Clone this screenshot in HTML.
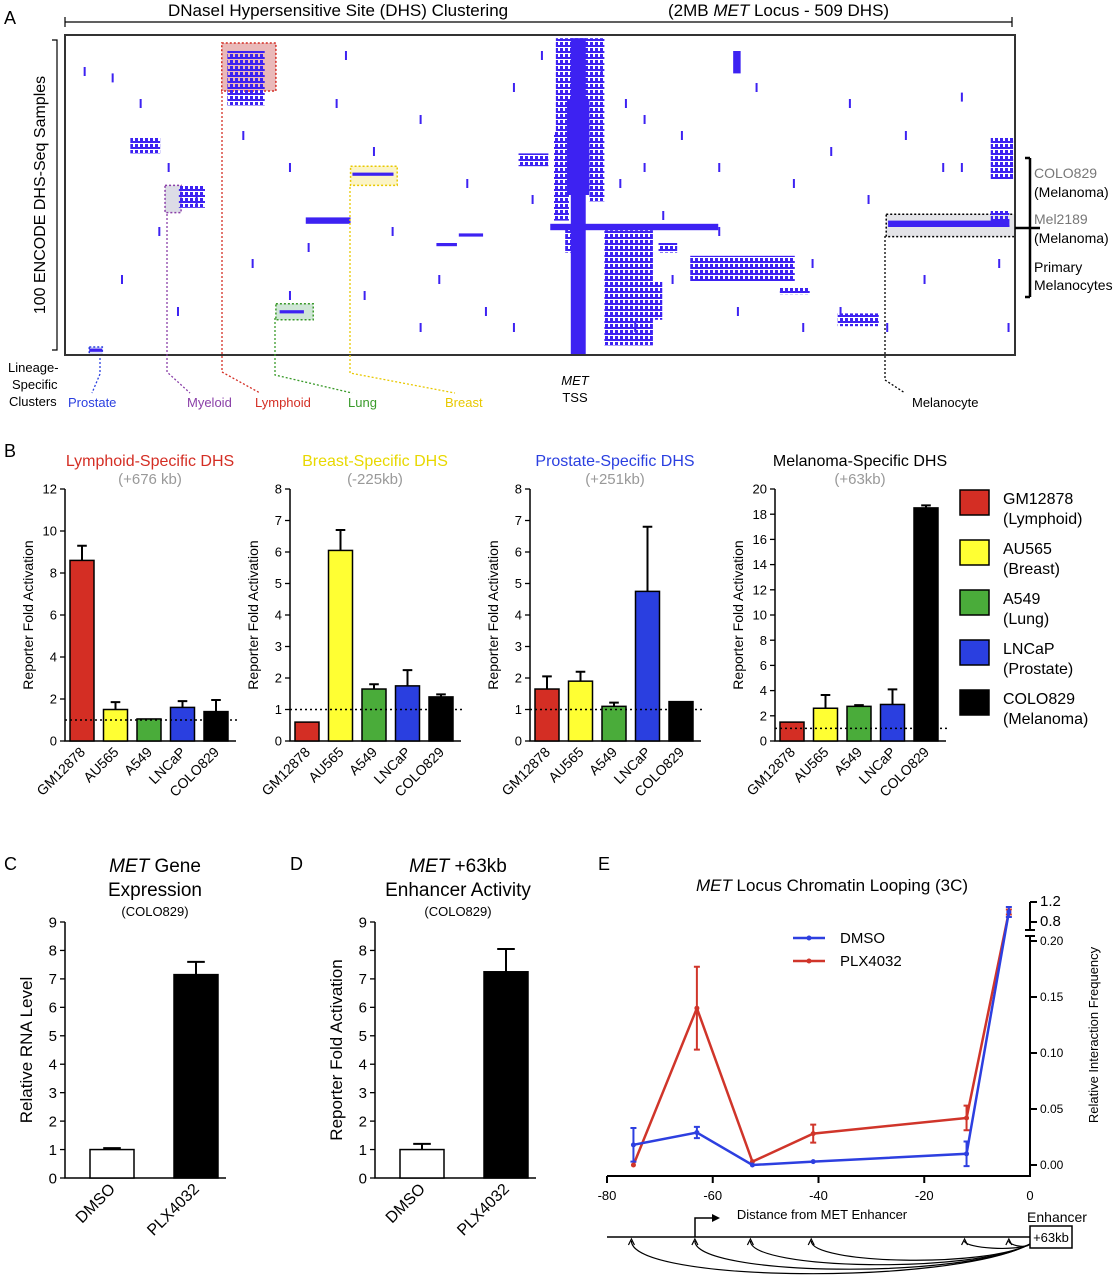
<!DOCTYPE html>
<html><head><meta charset="utf-8"><style>
body{margin:0;background:#fff}
svg{display:block;font-family:"Liberation Sans",sans-serif}
</style></head><body>
<svg id="fig" width="1120" height="1280" viewBox="0 0 1120 1280">
<defs>
<pattern id="speck" width="5" height="6" patternUnits="userSpaceOnUse"><rect x="0" y="0" width="3" height="5" fill="#3d22f2"/><rect x="3" y="3" width="2" height="2" fill="#3d22f2"/></pattern>
</defs>
<g id="pA">
<text x="4" y="24" font-size="18">A</text>
<text x="168" y="16" font-size="17">DNaseI Hypersensitive Site (DHS) Clustering</text>
<text x="668" y="16" font-size="17">(2MB <tspan font-style="italic">MET</tspan> Locus - 509 DHS)</text>
<path d="M65 17V27M65 22H1012M1012 17V27" stroke="#000" stroke-width="1.2" fill="none"/>
<text transform="translate(45,195) rotate(-90)" text-anchor="middle" font-size="16">100 ENCODE DHS-Seq Samples</text>
<path d="M52 40H57V350H52" stroke="#000" stroke-width="1.2" fill="none"/>
<g id="heat"></g>
<rect x="65" y="35" width="950" height="320" fill="none" stroke="#333" stroke-width="2"/>
<g font-size="13">
<text x="8" y="372">Lineage-</text>
<text x="12" y="389">Specific</text>
<text x="9" y="406">Clusters</text>
<text x="68" y="407" fill="#2a3fe0">Prostate</text>
<text x="187" y="407" fill="#8a3fa8">Myeloid</text>
<text x="255" y="407" fill="#d42e24">Lymphoid</text>
<text x="348" y="407" fill="#3a9a2a">Lung</text>
<text x="445" y="407" fill="#e8c800">Breast</text>
<text x="575" y="385" text-anchor="middle" font-style="italic">MET</text>
<text x="575" y="402" text-anchor="middle">TSS</text>
<text x="912" y="407">Melanocyte</text>
</g>
<g fill="none" stroke-dasharray="2,2" stroke-width="1.3">
<path d="M100 358V374L92 393" stroke="#2a3fe0"/>
<path d="M167 214V372L190 393" stroke="#8a3fa8"/>
<path d="M222 92V372L260 393" stroke="#d42e24"/>
<path d="M275 318V375L352 393" stroke="#3a9a2a"/>
<path d="M350 187V373L455 393" stroke="#e8c800"/>
<path d="M885 236V380L905 393" stroke="#000"/>
</g>
<path d="M1015 228H1040M1030 158H1025M1030 158V297M1030 297H1025" stroke="#000" stroke-width="2.5" fill="none"/>
<g font-size="14">
<text x="1034" y="178" fill="#777">COLO829</text><text x="1034" y="197">(Melanoma)</text>
<text x="1034" y="224" fill="#777">Mel2189</text><text x="1034" y="243">(Melanoma)</text>
<text x="1034" y="272">Primary</text><text x="1034" y="290">Melanocytes</text>
</g>
</g>
<g id="pB">
<text x="4" y="457" font-size="18">B</text>
</g>
<g id="pCD">
<text x="4" y="870" font-size="18">C</text>
<text x="290" y="870" font-size="18">D</text>
<text x="155" y="872" text-anchor="middle" font-size="19"><tspan font-style="italic">MET</tspan> Gene</text>
<text x="155" y="896" text-anchor="middle" font-size="19">Expression</text>
<text x="155" y="916" text-anchor="middle" font-size="13">(COLO829)</text>
<text x="458" y="872" text-anchor="middle" font-size="19"><tspan font-style="italic">MET</tspan> +63kb</text>
<text x="458" y="896" text-anchor="middle" font-size="19">Enhancer Activity</text>
<text x="458" y="916" text-anchor="middle" font-size="13">(COLO829)</text>
</g>
<g id="pE">
<text x="598" y="870" font-size="18">E</text>
<text x="832" y="891" text-anchor="middle" font-size="17"><tspan font-style="italic">MET</tspan> Locus Chromatin Looping (3C)</text>
</g>
</svg>
<script>
// Panel A heatmap: solid blocks [col,row,colSpan,rowSpan]
const heatSolid=[[271,1,8,99],[269,20,12,30],[260,59,90,2],[154,43,22,1],[115,86,13,1],[441,58,65,2],[129,57,24,2],[199,65,11,1],[211,62,13,1],[13,98,7,1],[358,5,4,7]];
// speckled (dense but patchy) blocks [col,row,colSpan,rowSpan]
const heatSpeck=[[263,1,26,30],[262,30,8,28],[281,30,8,22],[289,61,26,36],[335,69,56,8],[300,77,20,12],[383,79,16,2],[87,5,20,17],[61,47,14,7],[35,32,16,5],[243,37,16,4],[414,87,22,4],[496,32,12,13],[496,55,10,5],[268,60,10,8],[318,65,10,3]];
const heatTicks=[[10,10],[25,12],[40,20],[55,40],[70,50],[95,30],[100,70],[120,40],[130,65],[145,20],[160,80],[175,60],[190,25],[200,75],[215,45],[225,85],[240,15],[250,50],[300,20],[310,40],[320,55],[330,30],[350,60],[360,85],[370,15],[390,45],[400,70],[410,35],[420,20],[430,50],[460,75],[470,40],[480,18],[500,70],[505,90],[240,90],[190,90],[60,85],[30,75],[150,5],[350,40],[325,75],[395,90],[450,30],[120,80],[255,5],[305,90],[415,85],[50,60],[165,35],[440,90],[480,40],[287,10],[297,45],[310,25]];
const clusterBoxes=[[84,2.5,29,15],[53.6,47,8.6,8.5],[153,41,25,6],[113,84,20,5],[440,56,69,7],[13,97.5,7,2.5]];
const boxFill=['#eab9b9','#dcdce6','#fbf4c6','#cfe6d6','#e4e4e8','#d8dcf6'];
const boxStroke=['#d42e24','#8a3fa8','#e8c800','#3a9a2a','#000','#2a3fe0'];
const NS='http://www.w3.org/2000/svg';
function mk(tag,attrs,parent){const e=document.createElementNS(NS,tag);for(const k in attrs)e.setAttribute(k,attrs[k]);parent.appendChild(e);return e;}
const hx=c=>65+c*950/509, hy=r=>35+r*3.2;
const heat=document.getElementById('heat');
clusterBoxes.forEach((b,i)=>{const e=mk('rect',{x:hx(b[0]),y:hy(b[1]),width:b[2]*950/509,height:b[3]*3.2,fill:boxFill[i],stroke:boxStroke[i],'stroke-dasharray':'2,2','stroke-width':1.5},heat);

});
heatSpeck.forEach(b=>{const e=mk('rect',{x:hx(b[0]),y:hy(b[1]),width:b[2]*950/509,height:b[3]*3.2,fill:'url(#speck)'},heat);

});
heatSolid.forEach(b=>{const e=mk('rect',{x:hx(b[0]),y:hy(b[1]),width:b[2]*950/509,height:b[3]*3.2,fill:'#3d22f2'},heat);

});
heatTicks.forEach(b=>{const e=mk('rect',{x:hx(b[0]),y:hy(b[1]),width:2,height:9,fill:'#3d22f2'},heat);

});

// Panel B
const cellLines=['GM12878','AU565','A549','LNCaP','COLO829'];
const barColors=['#d42e24','#ffff33','#4aac3a','#2a3fe0','#000'];
const bTitles=['Lymphoid-Specific DHS','Breast-Specific DHS','Prostate-Specific DHS','Melanoma-Specific DHS'];
const bSub=['(+676 kb)','(-225kb)','(+251kb)','(+63kb)'];
const bTitleColors=['#d42e24','#e8d800','#2a3fe0','#000'];
const bMax=[12,8,8,20];
const bStep=[2,1,1,2];
const lymphVals=[8.6,1.5,1.05,1.6,1.4], lymphErr=[0.7,0.35,0,0.3,0.55];
const breastVals=[0.6,6.05,1.65,1.75,1.4], breastErr=[0,0.65,0.15,0.5,0.08];
const prostVals=[1.65,1.9,1.1,4.75,1.25], prostErr=[0.4,0.3,0.12,2.05,0];
const melVals=[1.5,2.6,2.75,2.9,18.5], melErr=[0,1.05,0.1,1.2,0.2];
const bVals=[lymphVals,breastVals,prostVals,melVals], bErrs=[lymphErr,breastErr,prostErr,melErr];
const bAxisX=[65,290,530,775];
const pB=document.getElementById('pB');
function barChart(g,x0,y0,y1,max,step,vals,errs,colors,cats,off,bstep,bw,fs,dotted,name){
  const ys=v=>y0-(v/max)*(y0-y1);
  const ax=mk('path',{d:`M${x0} ${y1}V${y0}H${x0+off+bstep*(vals.length-1)+bw/2+8}`,stroke:'#000','stroke-width':1.5,fill:'none'},g);
  
  
  for(let v=0;v<=max+1e-9;v+=step){
    mk('path',{d:`M${x0-5} ${ys(v)}H${x0}`,stroke:'#000','stroke-width':1.3},g);
    const t=mk('text',{x:x0-8,y:ys(v)+fs*0.35,'text-anchor':'end','font-size':fs},g);t.textContent=v;
    
    
  }
  vals.forEach((v,i)=>{const cx=x0+off+i*bstep;
    const r=mk('rect',{x:cx-bw/2,y:ys(v),width:bw,height:y0-ys(v),fill:colors[i],stroke:'#000','stroke-width':1.5},g);
    
    
    if(errs[i]>0){mk('path',{d:`M${cx} ${ys(v)}V${ys(v+errs[i])}M${cx-bw/5} ${ys(v+errs[i])}H${cx+bw/5}`,stroke:'#000','stroke-width':2},g);}
    const t=mk('text',{transform:`translate(${cx+4},${y0+12}) rotate(-45)`,'text-anchor':'end','font-size':fs+1},g);t.textContent=cats[i];
    
    
  });
  if(dotted){const d=mk('path',{d:`M${x0} ${ys(1)}H${x0+off+bstep*(vals.length-1)+bw/2+12}`,stroke:'#000','stroke-dasharray':'2,3','stroke-width':1.5},g);
    
    }
}
bVals.forEach((vals,k)=>{
  const g=mk('g',{},pB);
  
  
  const x0=bAxisX[k];
  barChart(g,x0,741,489,bMax[k],bStep[k],vals,bErrs[k],barColors,cellLines,17,33.5,24,13,true,'chart-b'+k);
  const t=mk('text',{x:x0+85,y:466,'text-anchor':'middle','font-size':16,fill:bTitleColors[k]},g);t.textContent=bTitles[k];
  
  
  const s=mk('text',{x:x0+85,y:484,'text-anchor':'middle','font-size':15,fill:'#999'},g);s.textContent=bSub[k];
  
  
  const yl=mk('text',{transform:`translate(${x0-32},615) rotate(-90)`,'text-anchor':'middle','font-size':14},g);yl.textContent='Reporter Fold Activation';
  
  
});
const legendNames=['GM12878','AU565','A549','LNCaP','COLO829'];
const legendSub=['(Lymphoid)','(Breast)','(Lung)','(Prostate)','(Melanoma)'];
legendNames.forEach((n,i)=>{const y=490+i*50;
  const r=mk('rect',{x:960,y:y,width:29,height:25,fill:barColors[i],stroke:'#000','stroke-width':1.5},pB);
  
  
  const t=mk('text',{x:1003,y:y+14,'font-size':16},pB);t.textContent=n;
  
  
  const t2=mk('text',{x:1003,y:y+34,'font-size':16},pB);t2.textContent=legendSub[i];
  
  
});

// Panels C & D
const cdCats=['DMSO','PLX4032'];
const cdColors=['#fff','#000'];
const rnaVals=[1.0,7.15], rnaErr=[0.05,0.45];
const enhVals=[1.0,7.25], enhErr=[0.2,0.8];
const pCD=document.getElementById('pCD');
[[65,rnaVals,rnaErr,'Relative RNA Level','chart-c'],[375,enhVals,enhErr,'Reporter Fold Activation','chart-d']].forEach(c=>{
  const g=mk('g',{},pCD);
  
  
  barChart(g,c[0],1178,922,9,1,c[1],c[2],cdColors,cdCats,47,84,44,15,false,c[4]);
  const yl=mk('text',{transform:`translate(${c[0]-33},1050) rotate(-90)`,'text-anchor':'middle','font-size':17},g);yl.textContent=c[3];
  
  
});

// Panel E
const distKb=[-75,-63,-52.5,-41,-12,-4];
const dmsoVals=[0.018,0.029,0.0,0.003,0.01,1.0], dmsoErr=[0.015,0.005,0,0,0.011,0.1];
const plxVals=[0.0,0.14,0.003,0.028,0.042,1.0], plxErr=[0,0.037,0,0.008,0.011,0.05];
const xTicks=[-80,-60,-40,-20,0];
const yTicksLow=[0,0.05,0.10,0.15,0.20], yTicksHigh=[0.8,1.2];
const pE=document.getElementById('pE');
const ex=v=>607+(v+80)/80*423;
const ey=v=>v<=0.2?1165-v/0.05*56:922-(v-0.8)/0.4*20;
const eax=mk('path',{d:'M607 1176H1030V902M607 1176V1183M712.75 1176V1183M818.5 1176V1183M924.25 1176V1183',stroke:'#000','stroke-width':2,fill:'none'},pE);


mk('rect',{x:1024,y:930,width:14,height:6,fill:'#fff'},pE);
mk('path',{d:'M1025 930H1035M1025 936H1035',stroke:'#000','stroke-width':2},pE);
xTicks.forEach(v=>{const t=mk('text',{x:ex(v),y:1200,'text-anchor':'middle','font-size':13},pE);t.textContent=v;
  
  });
yTicksLow.concat(yTicksHigh).forEach(v=>{mk('path',{d:`M1030 ${ey(v)}H1037`,stroke:'#000','stroke-width':2},pE);
  const t=mk('text',{x:1040,y:ey(v)+4,'font-size':v>=0.8?15:12},pE);t.textContent=v>=0.8?v.toFixed(1):v.toFixed(2);
  
  });
const ytE=mk('text',{transform:'translate(1098,1035) rotate(-90)','text-anchor':'middle','font-size':13},pE);ytE.textContent='Relative Interaction Frequency';


const xtE=mk('text',{x:822,y:1219,'text-anchor':'middle','font-size':13},pE);xtE.textContent='Distance from MET Enhancer';


[[plxVals,plxErr,'#d0352a','plx4032'],[dmsoVals,dmsoErr,'#2d3fe0','dmso']].forEach(s=>{
  const pts=distKb.map((d,i)=>ex(d)+','+ey(s[0][i])).join(' ');
  const l=mk('polyline',{points:pts,fill:'none',stroke:s[2],'stroke-width':2.5},pE);
  
  
  distKb.forEach((d,i)=>{const x=ex(d),v=s[0][i],e=s[1][i];
    if(e>0)mk('path',{d:`M${x} ${ey(v-e)}V${ey(v+e)}M${x-3} ${ey(v-e)}H${x+3}M${x-3} ${ey(v+e)}H${x+3}`,stroke:s[2],'stroke-width':2},pE);
    const p=mk('circle',{cx:x,cy:ey(v),r:2.5,fill:s[2]},pE);
    
    });
});
mk('rect',{x:1010,y:930,width:14,height:6,fill:'#fff'},pE);
[['DMSO','#2d3fe0',938],['PLX4032','#d0352a',961]].forEach(l=>{
  mk('path',{d:`M793 ${l[2]}H825`,stroke:l[1],'stroke-width':2.5},pE);
  mk('circle',{cx:809,cy:l[2],r:2.5,fill:l[1]},pE);
  const t=mk('text',{x:840,y:l[2]+5,'font-size':15},pE);t.textContent=l[0];
  
  });
const dg=mk('g',{},pE);


mk('path',{d:'M607 1237H1030M695 1237V1218H712',stroke:'#000','stroke-width':1.5,fill:'none'},dg);
mk('path',{d:'M712 1214L720 1218L712 1222Z',fill:'#000'},dg);
const box=mk('rect',{x:1030,y:1226,width:42,height:22,fill:'#fff',stroke:'#000','stroke-width':1.5},dg);


const bt=mk('text',{x:1051,y:1242,'text-anchor':'middle','font-size':13},dg);bt.textContent='+63kb';


const et=mk('text',{x:1057,y:1222,'text-anchor':'middle','font-size':14},dg);et.textContent='Enhancer';


distKb.forEach((d,i)=>{const x=ex(d)-(i==5?0:2);const depth=[42,36,30,24,8,5][i];
  mk('path',{d:`M1030 1244C${(x+1030)/2+ (1030-x)*0.3} ${1244+depth} ${x} ${1240+depth} ${x} 1241`,fill:'none',stroke:'#000','stroke-width':1.2},dg);
  mk('path',{d:`M${x-3} 1245L${x} 1239L${x+3} 1245`,fill:'none',stroke:'#000','stroke-width':1.2},dg);});
</script>
</body></html>
